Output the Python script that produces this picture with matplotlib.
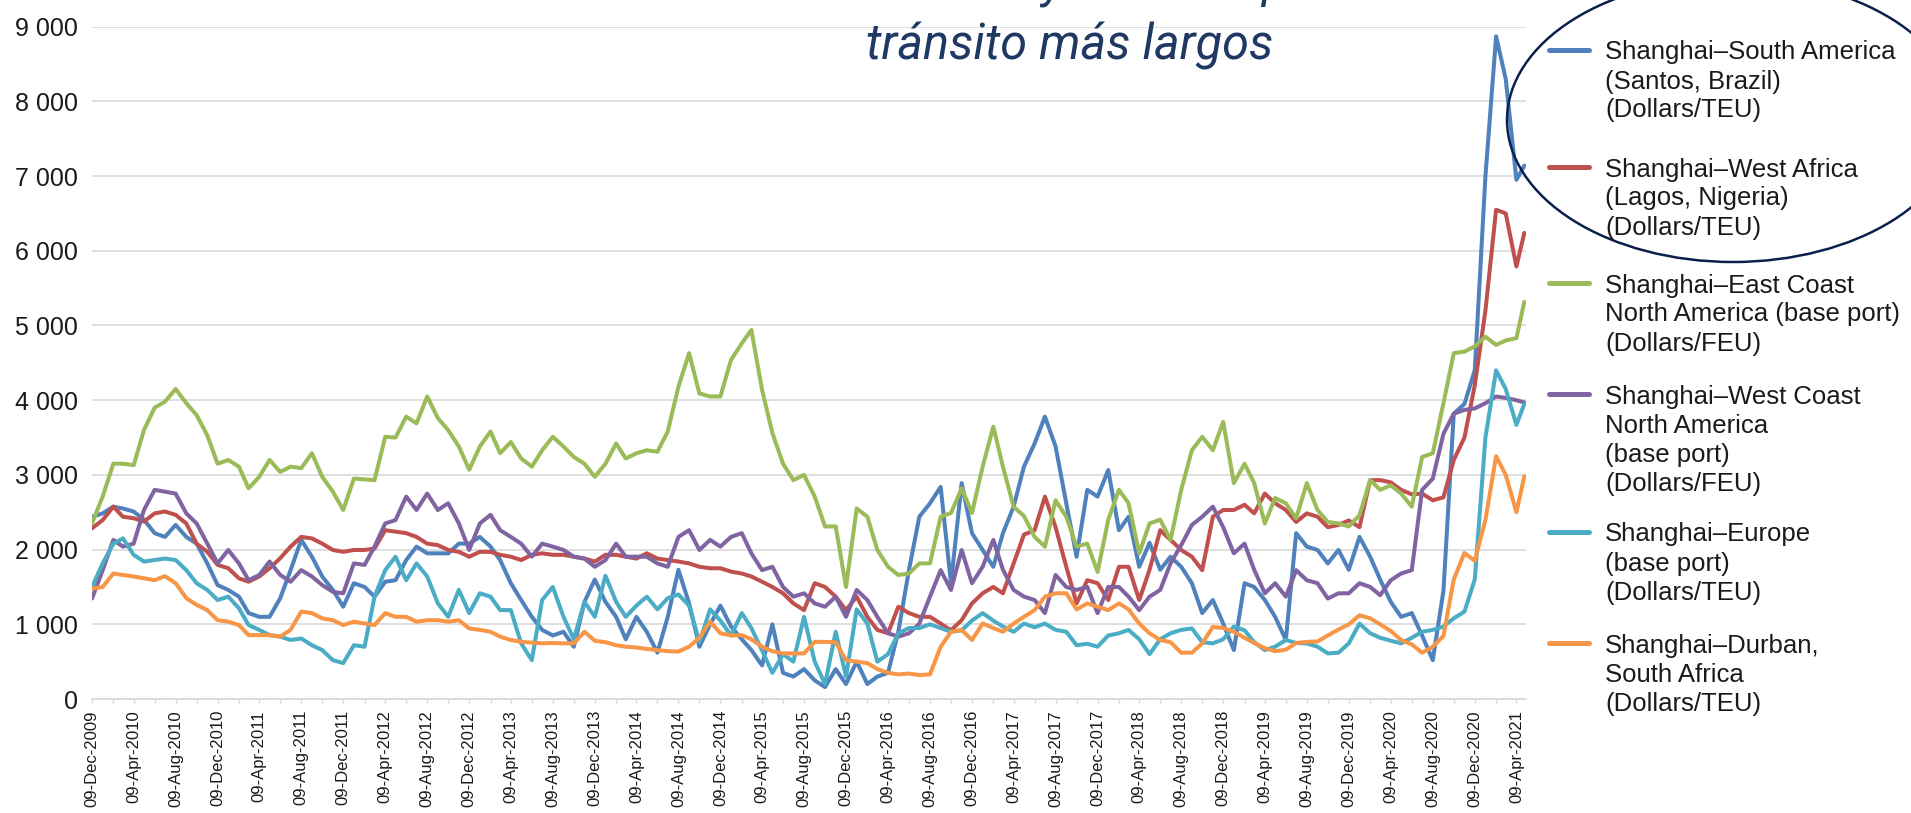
import pandas as pd
import matplotlib
matplotlib.use("Agg")
import matplotlib.pyplot as plt
import matplotlib.dates as mdates
from matplotlib import font_manager
from matplotlib.lines import Line2D
from matplotlib.patches import Ellipse
from matplotlib.ticker import FuncFormatter

# ---------------------------
# Datos (lectura aproximada del grafico, un punto por mes)
# ---------------------------
dates = list(pd.date_range("2009-12-09", periods=137, freq=pd.DateOffset(months=1)))
dates.append(pd.Timestamp("2021-05-02"))

south_america = [
    2440, 2485, 2575, 2550, 2510, 2400, 2220, 2170, 2330, 2170, 2080, 1815, 1525, 1460, 1370, 1150,
    1100, 1100, 1350, 1725, 2130, 1905, 1640, 1460, 1235, 1550, 1500, 1370, 1570, 1590, 1860, 2040,
    1950, 1950, 1950, 2080, 2080, 2170, 2040, 1860, 1550, 1325, 1100, 925, 850, 900, 700, 1300,
    1600, 1300, 1100, 800, 1100, 900, 620, 1100, 1730, 1280, 700, 1000, 1250, 970, 800, 655,
    450, 1000, 350, 300, 400, 250, 160, 400, 200, 500, 200, 300, 350, 900, 1730, 2440,
    2620, 2840, 1550, 2890, 2220, 1995, 1770, 2220, 2575, 3110, 3420, 3780, 3380, 2620, 1905, 2800,
    2710, 3065, 2260, 2440, 1770, 2090, 1730, 1905, 1770, 1550, 1150, 1325, 1010, 655, 1550, 1500,
    1325, 1100, 790, 2220, 2040, 1995, 1815, 1995, 1730, 2170, 1905, 1600, 1300, 1100, 1150, 850,
    520, 1450, 3820, 3950, 4400, 7000, 8870, 8300, 6950, 7140,
]
west_africa = [
    2285, 2395, 2575, 2440, 2420, 2375, 2485, 2510, 2465, 2350, 2080, 1970, 1795, 1750, 1615, 1570,
    1640, 1750, 1885, 2040, 2170, 2150, 2080, 1995, 1970, 1995, 1995, 2015, 2260, 2240, 2220, 2170,
    2080, 2060, 1995, 1970, 1905, 1970, 1970, 1930, 1905, 1860, 1930, 1950, 1930, 1930, 1905, 1880,
    1840, 1930, 1930, 1905, 1880, 1950, 1880, 1860, 1840, 1815, 1770, 1750, 1750, 1705, 1680, 1640,
    1570, 1500, 1415, 1280, 1190, 1550, 1500, 1370, 1190, 1370, 1100, 925, 880, 1235, 1150, 1100,
    1100, 1010, 920, 1055, 1280, 1415, 1500, 1415, 1815, 2200, 2260, 2710, 2300, 1770, 1280, 1590,
    1550, 1325, 1770, 1770, 1325, 1730, 2260, 2130, 1995, 1905, 1725, 2440, 2530, 2530, 2600, 2485,
    2750, 2620, 2530, 2370, 2485, 2440, 2300, 2330, 2390, 2300, 2930, 2930, 2900, 2800, 2740, 2750,
    2660, 2700, 3200, 3500, 4200, 5200, 6550, 6500, 5790, 6240,
]
east_coast_na = [
    2350, 2710, 3150, 3150, 3130, 3600, 3900, 3980, 4150, 3960, 3800, 3530, 3150, 3200, 3110, 2820,
    2975, 3200, 3040, 3110, 3090, 3290, 2975, 2775, 2530, 2950, 2940, 2930, 3510, 3500, 3780, 3690,
    4050, 3760, 3600, 3380, 3070, 3380, 3580, 3290, 3440, 3220, 3110, 3330, 3510, 3380, 3240, 3150,
    2975, 3150, 3420, 3220, 3290, 3330, 3310, 3580, 4180, 4630, 4090, 4050, 4050, 4540, 4760, 4940,
    4140, 3560, 3150, 2930, 3000, 2710, 2310, 2310, 1500, 2550, 2440, 1995, 1770, 1660, 1680, 1815,
    1815, 2440, 2490, 2820, 2490, 3110, 3645, 3110, 2575, 2450, 2170, 2040, 2660, 2440, 2040, 2080,
    1700, 2400, 2800, 2620, 1950, 2350, 2400, 2130, 2800, 3330, 3510, 3330, 3710, 2890, 3150, 2890,
    2350, 2690, 2620, 2420, 2890, 2530, 2370, 2350, 2310, 2460, 2930, 2800, 2860, 2750, 2575, 3240,
    3290, 3960, 4630, 4650, 4720, 4850, 4740, 4800, 4830, 5316,
]
west_coast_na = [
    1345, 1725, 2130, 2040, 2080, 2530, 2800, 2775, 2750, 2485, 2350, 2080, 1815, 1995, 1815, 1590,
    1660, 1840, 1660, 1570, 1725, 1640, 1525, 1435, 1415, 1815, 1795, 2040, 2350, 2395, 2710, 2530,
    2750, 2530, 2620, 2350, 1995, 2350, 2465, 2260, 2170, 2080, 1905, 2080, 2040, 1995, 1905, 1880,
    1770, 1860, 2080, 1905, 1905, 1905, 1815, 1770, 2170, 2260, 1995, 2130, 2040, 2170, 2220, 1950,
    1725, 1770, 1500, 1370, 1415, 1280, 1235, 1370, 1100, 1460, 1325, 1100, 880, 835, 880, 1010,
    1370, 1725, 1460, 1995, 1550, 1770, 2130, 1730, 1460, 1370, 1325, 1150, 1660, 1500, 1460, 1500,
    1150, 1500, 1500, 1370, 1190, 1370, 1460, 1815, 2060, 2330, 2440, 2575, 2300, 1950, 2080, 1730,
    1415, 1550, 1370, 1725, 1590, 1550, 1345, 1415, 1415, 1550, 1500, 1390, 1590, 1680, 1725, 2800,
    2950, 3550, 3820, 3870, 3890, 3960, 4050, 4030, 4000, 3970,
]
europe = [
    1500, 1815, 2080, 2150, 1930, 1840, 1860, 1880, 1860, 1725, 1550, 1460, 1325, 1370, 1215, 990,
    925, 855, 835, 790, 810, 720, 655, 520, 480, 720, 700, 1370, 1725, 1905, 1590, 1815,
    1640, 1280, 1100, 1460, 1150, 1415, 1370, 1190, 1190, 745, 520, 1325, 1500, 1100, 800, 1300,
    1100, 1650, 1300, 1100, 1250, 1370, 1200, 1350, 1400, 1250, 760, 1200, 1050, 850, 1150, 950,
    650, 350, 600, 500, 1100, 500, 200, 900, 300, 1200, 1010, 500, 600, 880, 950, 950,
    1000, 950, 900, 920, 1050, 1150, 1050, 970, 900, 1010, 960, 1010, 925, 900, 720, 740,
    700, 850, 880, 925, 800, 600, 800, 880, 925, 945, 760, 745, 800, 970, 920, 760,
    655, 700, 790, 750, 745, 700, 610, 620, 745, 1010, 880, 820, 780, 745, 820, 900,
    925, 970, 1080, 1170, 1600, 3500, 4400, 4150, 3670, 3950,
]
durban = [
    1480, 1500, 1680, 1660, 1640, 1615, 1590, 1645, 1550, 1350, 1260, 1190, 1055, 1035, 990, 855,
    855, 855, 835, 925, 1170, 1150, 1080, 1055, 990, 1035, 1010, 990, 1150, 1100, 1100, 1035,
    1055, 1055, 1035, 1055, 945, 925, 900, 835, 790, 765, 755, 745, 750, 745, 745, 900,
    780, 760, 720, 700, 690, 670, 655, 640, 635, 700, 820, 1035, 880, 850, 855, 800,
    700, 640, 610, 610, 610, 765, 765, 760, 520, 500, 480, 400, 350, 330, 340, 320,
    330, 700, 900, 925, 790, 1010, 950, 900, 1010, 1100, 1190, 1370, 1415, 1415, 1200, 1280,
    1235, 1190, 1280, 1200, 1010, 880, 790, 760, 620, 620, 745, 965, 950, 900, 820, 750,
    680, 640, 660, 750, 765, 770, 850, 930, 1000, 1120, 1080, 1000, 910, 790, 730, 620,
    700, 845, 1600, 1955, 1850, 2400, 3250, 3000, 2500, 2980,
]

series = [south_america, west_africa, east_coast_na, west_coast_na, europe, durban]
colors = ["#4f81bd", "#c0504d", "#9bbb59", "#8064a2", "#4bacc6", "#f79646"]
labels = [
    ["Shanghai\u2013South America", "(Santos, Brazil)", "(Dollars/TEU)"],
    ["Shanghai\u2013West Africa", "(Lagos, Nigeria)", "(Dollars/TEU)"],
    ["Shanghai\u2013East Coast", "North America (base port)", "(Dollars/FEU)"],
    ["Shanghai\u2013West Coast", "North America", "(base port)", "(Dollars/FEU)"],
    ["Shanghai\u2013Europe", "(base port)", "(Dollars/TEU)"],
    ["Shanghai\u2013Durban,", "South Africa", "(Dollars/TEU)"],
]

# ---------------------------
# Fuentes
# ---------------------------
available = {f.name for f in font_manager.fontManager.ttflist}
NARROW = "Liberation Sans Narrow" if "Liberation Sans Narrow" in available else "Liberation Sans"
plt.rcParams["font.family"] = ["Liberation Sans", "DejaVu Sans"]

W, H = 1911, 813


def fx(x):
    return x / W


def fy(y):
    return 1 - y / H


# ---------------------------
# Grafico
# ---------------------------
fig = plt.figure(figsize=(W / 100, H / 100), dpi=100)
ax = fig.add_axes([fx(92), fy(699), fx(1525.7) - fx(92), fy(26.7) - fy(699)])

for values, color in zip(series, colors):
    ax.plot(dates, values, color=color, lw=2.9, solid_joinstyle="round", solid_capstyle="round")

ax.set_ylim(0, 9000)
ax.set_xlim(pd.Timestamp("2009-12-09"), pd.Timestamp("2021-05-06"))
ax.set_yticks(range(0, 9001, 1000))
ax.yaxis.set_major_formatter(FuncFormatter(lambda v, p: f"{int(v):,}".replace(",", " ")))
ax.tick_params(axis="y", length=0, pad=10, labelsize=18, labelcolor="#1a1a1a")
for lab in ax.get_yticklabels():
    lab.set_family(NARROW)

ax.xaxis.set_major_locator(mdates.MonthLocator(bymonth=[4, 8, 12], bymonthday=9))
ax.xaxis.set_minor_locator(mdates.MonthLocator(bymonth=[2, 6, 10], bymonthday=9))
ax.xaxis.set_major_formatter(mdates.DateFormatter("%d-%b-%Y"))
ax.tick_params(axis="x", which="both", length=3, width=1, color="#d9d9d9", direction="out")
ax.tick_params(axis="x", which="major", pad=5, labelsize=12, labelcolor="#1a1a1a", labelrotation=90)
for lab in ax.get_xticklabels():
    lab.set_family(NARROW)

ax.grid(axis="y", color="#d9d9d9", lw=1.2)
ax.set_axisbelow(True)
for side in ["top", "right", "left"]:
    ax.spines[side].set_visible(False)
ax.spines["bottom"].set_color("#d9d9d9")
ax.spines["bottom"].set_linewidth(1.2)

# ---------------------------
# Leyenda (a mano, a la derecha)
# ---------------------------
first_line = [50, 167, 283, 394, 532, 643]
pitch = 29
for lines, color, y0 in zip(labels, colors, first_line):
    fig.add_artist(Line2D([fx(1549), fx(1589)], [fy(y0), fy(y0)], color=color, lw=3.6,
                          solid_capstyle="round"))
    for i, txt in enumerate(lines):
        fig.text(fx(1605), fy(y0 + 9.5 + i * pitch), txt, fontsize=18.5, color="#1a1a1a",
                 ha="left", va="baseline")

# ---------------------------
# Titulo (la primera linea queda cortada arriba, como en el original) y elipse
# ---------------------------
fig.text(fx(975), fy(-3), "mayores tiempos de", fontsize=35, family="Roboto", style="italic",
         color="#1f3864", ha="left", va="baseline")
fig.text(fx(866), fy(59), "tr\u00e1nsito m\u00e1s largos", fontsize=35, family="Roboto",
         style="italic", color="#1f3864", ha="left", va="baseline")

fig.add_artist(Ellipse((fx(1733), fy(120)), width=452 / W, height=284 / H, transform=fig.transFigure,
                       fill=False, edgecolor="#0b1f4c", lw=1.8))

fig.savefig("out.png", dpi=100)
